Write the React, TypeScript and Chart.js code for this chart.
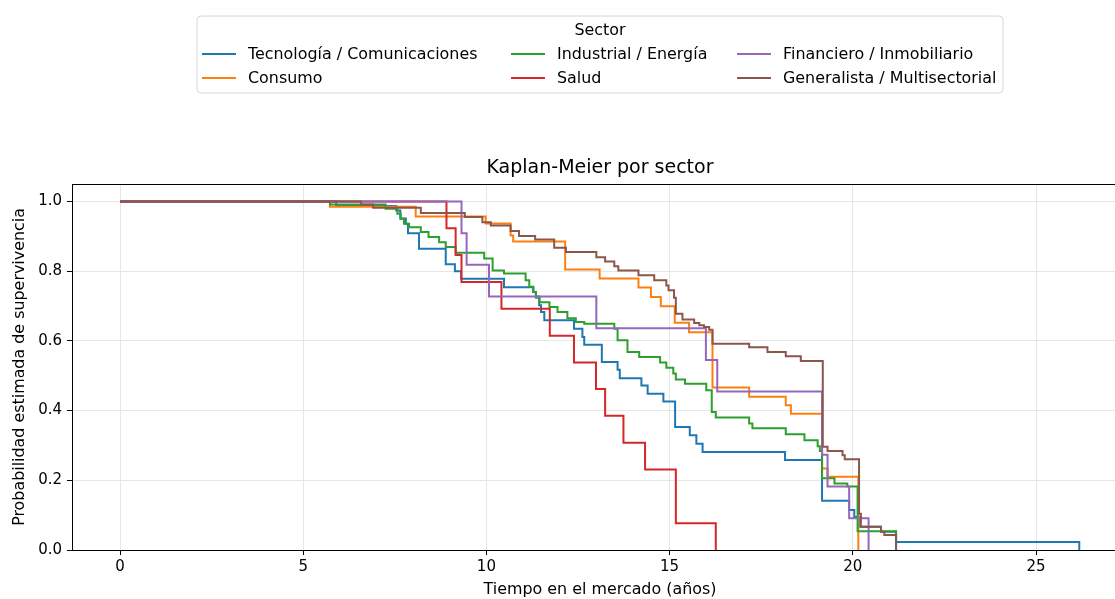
import React, { useEffect, useRef } from "react";
import { Chart, registerables } from "chart.js";

Chart.register(...registerables);

const FONT = "'DejaVu Sans', sans-serif";

// Tick labels
const xTicks = [0, 5, 10, 15, 20, 25];
const yTicks = [0, 0.2, 0.4, 0.6, 0.8, 1.0];

// Sector names (legend order, column-major like the reference)
const sectorNames = [
  "Tecnología / Comunicaciones",
  "Consumo",
  "Industrial / Energía",
  "Salud",
  "Financiero / Inmobiliario",
  "Generalista / Multisectorial",
];
const sectorColors = ["#1f77b4", "#ff7f0e", "#2ca02c", "#d62728", "#9467bd", "#8c564b"];

// Kaplan-Meier step curves (time in years, estimated survival)
const techT = [0, 5.9, 7.54, 7.65, 7.8, 7.86, 8.16, 8.89, 9.14, 9.31, 10.48, 11.28, 11.35, 11.44, 11.49, 11.58, 12.39, 12.62, 12.67, 13.15, 13.58, 13.64, 14.23, 14.4, 14.83, 15.15, 15.55, 15.73, 15.9, 18.15, 19.16, 19.9, 20.04, 20.2, 20.77, 21.18, 26.18];
const techS = [1, 0.987, 0.974, 0.951, 0.936, 0.909, 0.864, 0.82, 0.8, 0.778, 0.754, 0.74, 0.727, 0.702, 0.683, 0.659, 0.635, 0.611, 0.589, 0.539, 0.517, 0.493, 0.472, 0.448, 0.426, 0.353, 0.329, 0.305, 0.281, 0.258, 0.141, 0.115, 0.095, 0.067, 0.052, 0.023, 0];

const consT = [0, 5.73, 8.07, 9.98, 10.66, 10.73, 12.15, 13.09, 14.15, 14.49, 14.76, 15.14, 15.53, 16.17, 17.17, 18.17, 18.31, 19.16, 19.31, 20.15];
const consS = [1, 0.985, 0.957, 0.937, 0.902, 0.885, 0.805, 0.779, 0.753, 0.726, 0.699, 0.652, 0.625, 0.466, 0.44, 0.415, 0.391, 0.234, 0.21, 0];

const indT = [0, 5.73, 7.25, 7.57, 7.66, 7.75, 7.89, 8.21, 8.42, 8.71, 8.89, 9.16, 9.94, 10.17, 10.48, 11.07, 11.17, 11.28, 11.35, 11.45, 11.72, 11.94, 12.21, 12.44, 12.67, 13.49, 13.58, 13.85, 14.17, 14.74, 14.91, 15.1, 15.17, 15.42, 16.0, 16.15, 16.26, 17.17, 17.26, 18.17, 18.68, 19.04, 19.1, 19.16, 19.5, 19.85, 20.13, 21.18];
const indS = [1, 0.991, 0.979, 0.965, 0.95, 0.936, 0.926, 0.912, 0.898, 0.883, 0.869, 0.853, 0.836, 0.802, 0.793, 0.774, 0.755, 0.74, 0.724, 0.711, 0.697, 0.683, 0.665, 0.654, 0.649, 0.635, 0.602, 0.568, 0.554, 0.538, 0.523, 0.506, 0.489, 0.477, 0.458, 0.396, 0.38, 0.363, 0.349, 0.332, 0.315, 0.298, 0.284, 0.206, 0.191, 0.182, 0.054, 0];

const saludT = [0, 8.91, 9.16, 9.32, 10.41, 11.73, 12.39, 12.99, 13.24, 13.74, 14.33, 15.17, 16.26];
const saludS = [1, 0.923, 0.846, 0.769, 0.692, 0.615, 0.538, 0.462, 0.385, 0.308, 0.231, 0.077, 0];

const finT = [0, 9.32, 9.46, 10.07, 13.0, 15.99, 16.3, 19.16, 19.31, 19.9, 20.43];
const finS = [1, 0.909, 0.818, 0.727, 0.636, 0.545, 0.455, 0.273, 0.182, 0.091, 0];

const genT = [0, 6.58, 6.91, 8.21, 9.41, 9.89, 10.12, 10.66, 10.89, 11.33, 11.85, 12.17, 13.0, 13.24, 13.49, 13.6, 14.15, 14.58, 14.91, 14.97, 15.12, 15.17, 15.35, 15.67, 15.81, 15.94, 16.08, 16.17, 17.17, 17.67, 18.17, 18.58, 19.18, 19.31, 19.72, 19.78, 20.17, 20.22, 20.77, 20.86, 21.18];
const genS = [1, 0.991, 0.982, 0.967, 0.955, 0.94, 0.931, 0.915, 0.901, 0.891, 0.867, 0.855, 0.84, 0.828, 0.814, 0.802, 0.788, 0.774, 0.759, 0.745, 0.724, 0.678, 0.661, 0.651, 0.645, 0.64, 0.632, 0.592, 0.582, 0.568, 0.556, 0.542, 0.296, 0.284, 0.272, 0.26, 0.104, 0.067, 0.052, 0.043, 0];

const seriesTimes = [techT, consT, indT, saludT, finT, genT];
const seriesSurv = [techS, consS, indS, saludS, finS, genS];

const framePlugin = {
  id: "frame",
  afterDatasetsDraw(chart: any) {
    const { ctx, chartArea: a } = chart;
    ctx.save();
    ctx.strokeStyle = "#000";
    ctx.lineWidth = 1;
    ctx.strokeRect(a.left + 0.5, a.top + 0.5, a.right - a.left - 1, a.bottom - a.top);
    ctx.restore();
  },
  afterDraw(chart: any) {
    const { ctx, chartArea: a } = chart;
    ctx.save();
    // Title
    ctx.fillStyle = "#000";
    ctx.font = `19px ${FONT}`;
    ctx.textAlign = "center";
    ctx.textBaseline = "middle";
    ctx.fillText("Kaplan-Meier por sector", (a.left + a.right) / 2, 168);

    // Legend box
    const bx0 = 197, by0 = 16, bx1 = 1003, by1 = 93, r = 4;
    ctx.beginPath();
    ctx.moveTo(bx0 + r, by0);
    ctx.lineTo(bx1 - r, by0);
    ctx.quadraticCurveTo(bx1, by0, bx1, by0 + r);
    ctx.lineTo(bx1, by1 - r);
    ctx.quadraticCurveTo(bx1, by1, bx1 - r, by1);
    ctx.lineTo(bx0 + r, by1);
    ctx.quadraticCurveTo(bx0, by1, bx0, by1 - r);
    ctx.lineTo(bx0, by0 + r);
    ctx.quadraticCurveTo(bx0, by0, bx0 + r, by0);
    ctx.closePath();
    ctx.fillStyle = "rgba(255,255,255,0.8)";
    ctx.fill();
    ctx.strokeStyle = "#d6d6d6";
    ctx.lineWidth = 1;
    ctx.stroke();

    ctx.fillStyle = "#000";
    ctx.font = `15.9px ${FONT}`;
    ctx.textAlign = "center";
    ctx.fillText("Sector", 600, 31);

    const cols = [
      { hx: 202, tx: 248 },
      { hx: 511, tx: 557 },
      { hx: 737, tx: 783 },
    ];
    const rows = [55, 79];
    ctx.textAlign = "left";
    chart.data.datasets.forEach((ds: any, i: number) => {
      const c = cols[Math.floor(i / 2)];
      const y = rows[i % 2];
      ctx.strokeStyle = ds.borderColor;
      ctx.lineWidth = 2;
      ctx.beginPath();
      ctx.moveTo(c.hx, y - 1);
      ctx.lineTo(c.hx + 34, y - 1);
      ctx.stroke();
      ctx.fillStyle = "#000";
      ctx.fillText(ds.label, c.tx, y);
    });
    ctx.restore();
  },
};

export default function App() {
  const ref = useRef<HTMLCanvasElement>(null);
  useEffect(() => {
    const canvas = ref.current!;
    const chart = new Chart(canvas, {
      type: "line",
      data: {
        datasets: sectorNames.map((name, i) => ({
          label: name,
          data: seriesTimes[i].map((t, j) => ({ x: t, y: seriesSurv[i][j] })),
          borderColor: sectorColors[i],
          backgroundColor: sectorColors[i],
          borderWidth: 2,
          pointRadius: 0,
          stepped: "before" as const,
          fill: false,
          order: sectorNames.length - i,
        })),
      },
      options: {
        responsive: false,
        animation: false,
        layout: { padding: { top: 184, right: 12, left: 0, bottom: 0 } },
        plugins: {
          legend: { display: false },
          title: { display: false },
          tooltip: { enabled: false },
        },
        scales: {
          x: {
            type: "linear",
            min: -1.31,
            max: 27.51,
            afterBuildTicks: (s: any) => {
              s.ticks = xTicks.map((v) => ({ value: v }));
            },
            afterFit: (s: any) => {
              s.height = 49;
            },
            ticks: {
              callback: (v: any) => String(v),
              color: "#000",
              font: { family: FONT, size: 15 },
              padding: 3,
              maxRotation: 0,
              autoSkip: false,
            },
            grid: { color: "#e6e6e6", tickColor: "#000", tickLength: 5, lineWidth: 1 },
            border: { color: "#000", width: 1 },
            title: {
              display: true,
              text: "Tiempo en el mercado (años)",
              color: "#000",
              font: { family: FONT, size: 15.9 },
              padding: { top: 0, bottom: 0 },
            },
          },
          y: {
            type: "linear",
            min: 0,
            max: 1.05,
            afterBuildTicks: (s: any) => {
              s.ticks = yTicks.map((v) => ({ value: v }));
            },
            afterFit: (s: any) => {
              s.width = 72;
            },
            ticks: {
              callback: (v: any) => Number(v).toFixed(1),
              color: "#000",
              font: { family: FONT, size: 15 },
              padding: 5,
              autoSkip: false,
            },
            grid: { color: "#e6e6e6", tickColor: "#000", tickLength: 5, lineWidth: 1 },
            border: { color: "#000", width: 1 },
            title: {
              display: true,
              text: "Probabilidad estimada de supervivencia",
              color: "#000",
              font: { family: FONT, size: 15.9 },
              padding: { top: 10, bottom: 0 },
            },
          },
        },
      },
      plugins: [framePlugin],
    });
    return () => chart.destroy();
  }, []);

  return (
    <div
      style={{
        position: "fixed",
        left: 0,
        top: 0,
        width: 1115,
        height: 599,
        overflow: "hidden",
        background: "#fff",
      }}
    >
      <canvas ref={ref} width={1140} height={599} style={{ display: "block" }} />
    </div>
  );
}
